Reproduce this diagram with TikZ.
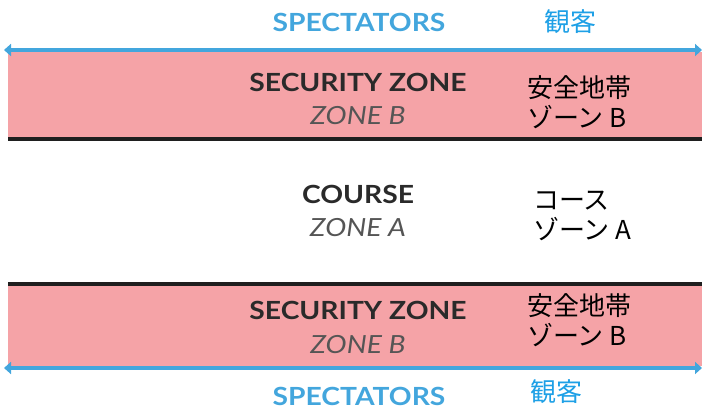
\documentclass[tikz,border=0pt]{standalone}
\usepackage{fontspec}
\setmainfont{Lato}
\newfontfamily\labelfont[FakeStretch=1.13]{Lato}
\newfontfamily\jpfont{Noto Sans CJK JP}
\usetikzlibrary{arrows.meta}
\definecolor{specblue}{HTML}{43A6DD}
\definecolor{jpblue}{HTML}{1EA0E6}
\definecolor{bandpink}{HTML}{F5A3A7}
\definecolor{darktxt}{HTML}{2A2A2A}
\tikzset{
  title/.style={font=\labelfont\fontsize{25}{28}\selectfont\bfseries, text=darktxt, inner sep=0pt},
  sub/.style={font=\labelfont\fontsize{25}{28}\selectfont\itshape, text=darktxt!80, inner sep=0pt},
  spec/.style={font=\labelfont\fontsize{25}{28}\selectfont\bfseries, text=specblue, inner sep=0pt},
  jp/.style={font=\jpfont\fontsize{26}{30}\selectfont, text=black, inner sep=0pt, align=left, anchor=west},
  jpspec/.style={font=\jpfont\fontsize{26}{30}\selectfont, text=jpblue, inner sep=0pt, anchor=west},
  band/.style={fill=bandpink, draw=none},
  edge/.style={line width=4pt, draw=black!88},
  specarrow/.style={line width=3.5pt, draw=specblue, {Triangle[length=7pt,width=12pt]}-{Triangle[length=7pt,width=12pt]}}
}
\begin{document}
\begin{tikzpicture}[x=1pt,y=-1pt]
\useasboundingbox (0,0) rectangle (702,412);
% bands
\path[band] (8,52) rectangle (702,137);
\path[band] (8,286) rectangle (702,366);
% edges
\coordinate (e1l) at (8,139); \coordinate (e1r) at (702,139);
\coordinate (e2l) at (8,284); \coordinate (e2r) at (702,284);
\draw[edge] (e1l) -- (e1r);
\draw[edge] (e2l) -- (e2r);
% spectator arrows
\coordinate (a1l) at (4,50); \coordinate (a1r) at (702,50);
\coordinate (a2l) at (4,368); \coordinate (a2r) at (702,368);
\draw[specarrow] (a1l) -- (a1r);
\draw[specarrow] (a2l) -- (a2r);
% texts
\node[spec] (spec1) at (359,22) {SPECTATORS};
\node[jpspec] (jspec1) at (544,22) {観客};
\node[title] (sec1) at (358,82) {SECURITY ZONE};
\node[sub] (zb1) at (358,116) {ZONE B};
\node[jp] (jsec1) at (527,102) {安全地帯\\ゾーン B};
\node[title] (course) at (358,194) {COURSE};
\node[sub] (za) at (358,228) {ZONE A};
\node[jp] (jcourse) at (533,216) {コース\\ゾーン A};
\node[title] (sec2) at (358,310) {SECURITY ZONE};
\node[sub] (zb2) at (358,345) {ZONE B};
\node[jp] (jsec2) at (527,320) {安全地帯\\ゾーン B};
\node[spec] (spec2) at (359,396) {SPECTATORS};
\node[jpspec] (jspec2) at (530,392) {観客};
\end{tikzpicture}
\end{document}
